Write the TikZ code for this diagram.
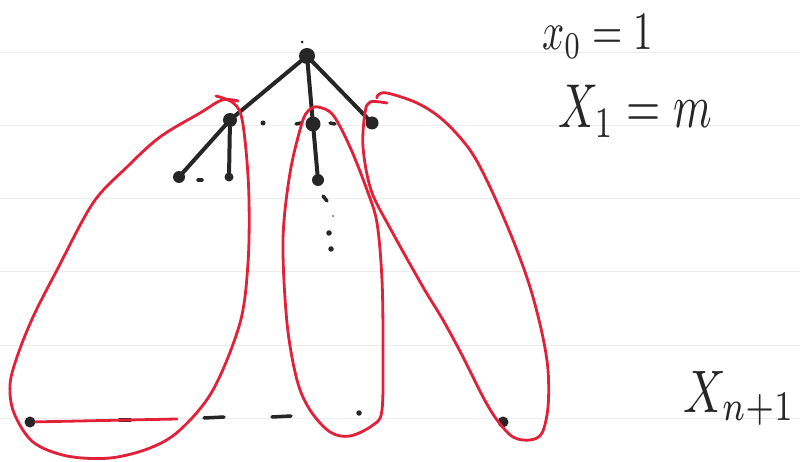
\documentclass[tikz,border=0pt]{standalone}
\definecolor{pen}{RGB}{226,32,56}
\definecolor{ink}{RGB}{38,38,38}
\begin{document}
\begin{tikzpicture}[x=1pt,y=-1pt,
  vtx/.style={circle,fill=ink,inner sep=0pt,minimum size=#1},
  vtx/.default=12pt,
  edge/.style={draw=ink,line width=4pt,line cap=round},
  tick/.style={draw=ink,line width=3.5pt,line cap=round},
  redloop/.style={draw=pen,line width=2.8pt,line cap=round,line join=round},
  rule/.style={draw=black!7,line width=0.8pt},
  lbl/.style={inner sep=0pt,anchor=base west,text=ink}]
\useasboundingbox (0,0) rectangle (800,462);
\fill[white] (0,0) rectangle (800,462);
% notebook rules
\foreach \y in {52,125,198,271,345,418} \draw[rule] (0,\y) -- (800,\y);
% tree
\node[vtx=16pt] (r) at (307,56) {};
\node[vtx=14pt] (a) at (230,120) {};
\node[vtx=15pt] (b) at (313,124) {};
\node[vtx=13pt] (c) at (372,123) {};
\node[vtx=12pt] (a1) at (179,177) {};
\node[vtx=9pt] (a2) at (229,177) {};
\node[vtx=12pt] (b1) at (318,180) {};
\draw[edge] (r) -- (a);
\draw[edge] (r) -- (b);
\draw[edge] (r) -- (c);
\draw[edge] (a) -- (a1);
\draw[edge] (a) -- (a2);
\draw[edge] (b) -- (b1);
% small marks
\node[vtx=3pt] (t0) at (302,42) {};
\node[vtx=5pt] (d1) at (263,123) {};
\coordinate (d2l) at (296,124); \coordinate (d2r) at (301,123);
\draw[tick] (d2l) -- (d2r);
\coordinate (d3l) at (330,123); \coordinate (d3r) at (335,124);
\draw[tick] (d3l) -- (d3r);
\coordinate (d4l) at (198,180); \coordinate (d4r) at (202,180);
\draw[tick] (d4l) -- (d4r);
\coordinate (v1a) at (323,196); \coordinate (v1b) at (327,201);
\draw[tick] (v1a) -- (v1b);
\node[vtx=2pt,fill=pen] (v2) at (333,216) {};
\node[vtx=5.5pt] (v3) at (329,233) {};
\node[vtx=5.5pt] (v4) at (331,249) {};
% bottom row
\node[vtx=11pt] (x1) at (30,422) {};
\coordinate (x2l) at (120,420); \coordinate (x2r) at (130,420);
\draw[tick,line width=4.5pt] (x2l) -- (x2r);
\coordinate (x3l) at (204,418); \coordinate (x3r) at (224,417);
\draw[tick] (x3l) -- (x3r);
\coordinate (x4l) at (272,417); \coordinate (x4r) at (291,416);
\draw[tick] (x4l) -- (x4r);
\node[vtx=5.5pt] (x5) at (359,413) {};
\node[vtx=11pt] (x6) at (503,422) {};
\coordinate (xe) at (177,419);
\draw[redloop] (x1) -- (xe);
% loops
\draw[redloop] plot[smooth,tension=0.55] coordinates {(216,96) (232,102) (241,115) (246,150) (249,200) (248,263) (240,323) (213,390) (180,430) (150,448) (110,458) (67,456) (33,442) (14,413) (10,385) (17,357) (33,317) (57,270) (93,203) (127,167) (160,137) (200,113) (222,100) (238,101)};
\draw[redloop] plot[smooth cycle,tension=0.55] coordinates {(318,107) (333,115) (350,147) (367,190) (377,223) (382,280) (383,347) (382,410) (373,425) (350,436) (330,432) (310,410) (297,380) (287,323) (283,240) (290,173) (302,123) (309,110)};
\draw[redloop] plot[smooth,tension=0.55] coordinates {(387,103) (370,102) (365,113) (363,147) (371,190) (390,228) (423,287) (443,320) (463,357) (483,397) (497,420) (513,437) (530,440) (542,433) (548,407) (548,370) (542,333) (530,287) (513,240) (490,187) (470,150) (443,120) (417,103) (387,93) (378,95) (377,98)};
% labels
\node[lbl] (l0) at (542,50) {\scalebox{3.9}[5.4]{$x_0 = 1$}};
\node[lbl] (l1) at (558,128) {\scalebox{4.4}[6.2]{$X_1 = m$}};
\node[lbl] (l2) at (683,412) {\scalebox{4.7}[6.0]{$X_{n+1}$}};
\end{tikzpicture}
\end{document}
